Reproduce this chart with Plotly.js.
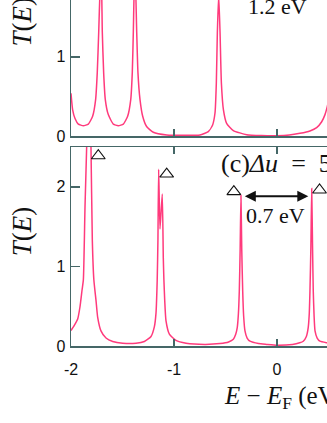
<!DOCTYPE html>
<html>
<head>
<meta charset="utf-8">
<script src="https://cdn.plot.ly/plotly-3.0.1.min.js"></script>
<style>
  html, body { margin:0; padding:0; width:327px; height:423px; overflow:hidden; background:#fff; }
  #chart { position:absolute; left:0; top:-100px; }
</style>
</head>
<body>
<div id="chart"></div>
<script>
// ---- data ----
// upper panel (peaks 1.2 eV apart)
const topE = [-2.000,-1.984,-1.961,-1.929,-1.880,-1.832,-1.790,-1.761,-1.745,-1.731,-1.718,-1.706,-1.696,-1.683,-1.667,-1.638,-1.589,-1.541,-1.492,-1.450,-1.420,-1.405,-1.395,-1.386,-1.376,-1.362,-1.350,-1.330,-1.304,-1.266,-1.201,-1.071,-0.900,-0.748,-0.667,-0.625,-0.602,-0.589,-0.579,-0.566,-0.553,-0.540,-0.520,-0.489,-0.424,-0.294,-0.150,0.000,0.120,0.223,0.320,0.385,0.434,0.466,0.488,0.510];
const topT = [0.54,0.33,0.22,0.15,0.13,0.15,0.25,0.46,0.80,1.31,1.85,2.05,1.31,0.80,0.46,0.27,0.15,0.13,0.15,0.25,0.46,0.80,1.31,1.85,2.00,1.31,0.80,0.46,0.25,0.12,0.047,0.013,0.008,0.013,0.055,0.14,0.29,0.67,1.31,1.78,1.31,0.67,0.33,0.16,0.068,0.017,0.006,0.004,0.012,0.034,0.064,0.106,0.18,0.27,0.37,0.52];

// lower panel (c) Δu = 5
const botE = [-2.000,-1.968,-1.935,-1.913,-1.893,-1.880,-1.864,-1.848,-1.836,-1.818,-1.806,-1.793,-1.778,-1.757,-1.741,-1.709,-1.660,-1.595,-1.498,-1.369,-1.288,-1.223,-1.191,-1.175,-1.163,-1.156,-1.149,-1.136,-1.114,-1.104,-1.098,-1.090,-1.078,-1.045,-0.981,-0.883,-0.700,-0.553,-0.470,-0.424,-0.400,-0.386,-0.375,-0.366,-0.358,-0.350,-0.342,-0.333,-0.324,-0.311,-0.290,-0.262,-0.180,-0.100,0.000,0.150,0.220,0.255,0.285,0.303,0.313,0.320,0.329,0.337,0.345,0.352,0.360,0.369,0.390,0.417,0.485,0.510];
const botT = [0.195,0.26,0.34,0.49,0.70,0.83,1.75,2.50,3.20,3.20,2.50,1.33,0.83,0.57,0.36,0.19,0.10,0.057,0.035,0.035,0.057,0.12,0.24,0.41,0.83,1.33,2.22,1.47,1.91,1.11,0.83,0.57,0.32,0.15,0.07,0.035,0.02,0.03,0.05,0.085,0.15,0.23,0.40,0.69,1.20,1.89,1.20,0.69,0.38,0.19,0.10,0.06,0.03,0.02,0.01,0.02,0.04,0.06,0.12,0.23,0.40,0.69,1.25,1.98,1.25,0.69,0.38,0.19,0.10,0.06,0.04,0.035];

// peak markers (△) in panel (c)
const markE = [-1.735,-1.071,-0.419,0.413];
const markT = [2.39,2.16,1.94,1.96];

// spacing arrow in panel (c)
const arrowE = [-0.327, 0.304];
const arrowT = 1.88;

const xTicks = [-2,-1,0];
const yTicks = [0,1,2];

// ---- figure ----
const curveColor = '#ff3a7c';
const axisColor = '#456767';
const tickFont = {family:'Liberation Sans, Arial, sans-serif', size:16, color:'#111'};
const serif = 'Liberation Serif, Times New Roman, serif';

const traces = [
  {x: topE, y: topT, xaxis:'x2', yaxis:'y2', mode:'lines', line:{color:curveColor, width:1.5, shape:'spline', smoothing:0.5}, hoverinfo:'skip'},
  {x: botE, y: botT, xaxis:'x', yaxis:'y', mode:'lines', line:{color:curveColor, width:1.5, shape:'spline', smoothing:0.5}, hoverinfo:'skip'},
  {x: markE, y: markT, xaxis:'x', yaxis:'y', mode:'markers',
   marker:{symbol:'triangle-up-open', size:12, color:'#111', line:{width:1.1, color:'#111'}}, cliponaxis:false, hoverinfo:'skip'}
];

const axBase = {
  showline:true, linecolor:axisColor, linewidth:1.5, mirror:'ticks',
  ticks:'inside', tickcolor:axisColor, tickwidth:1.5,
  showgrid:false, zeroline:false, tickfont:tickFont
};

const layout = {
  width:400, height:530,
  margin:{l:71, r:20, t:38, b:84},
  paper_bgcolor:'#fff', plot_bgcolor:'#fff',
  showlegend:false,
  xaxis: Object.assign({}, axBase, {anchor:'y', domain:[0,1], range:[-2,1], tickvals:xTicks, ticktext:xTicks.map(String), ticklen:7, ticklabelstandoff:8}),
  yaxis: Object.assign({}, axBase, {anchor:'x', domain:[0,199/408], range:[0,2.5], tickvals:yTicks, ticktext:yTicks.map(String), ticklen:9, ticklabelstandoff:1}),
  xaxis2: Object.assign({}, axBase, {anchor:'y2', domain:[0,1], range:[-2,1], tickvals:xTicks, showticklabels:false, ticklen:7}),
  yaxis2: Object.assign({}, axBase, {anchor:'x2', domain:[210/408,1], range:[0,2.5], tickvals:yTicks, ticktext:yTicks.map(String), ticklen:9, ticklabelstandoff:1}),
  annotations: [
    {xref:'x2', yref:'y2', x:0.0, y:1.63, text:'1.2 eV', showarrow:false, xanchor:'center', yanchor:'middle',
     font:{family:serif, size:22, color:'#111'}},
    {xref:'x', yref:'y', x:-0.01, y:1.64, text:'0.7 eV', showarrow:false, xanchor:'center', yanchor:'middle',
     font:{family:serif, size:22, color:'#111'}},
    {xref:'x', yref:'y', x:-0.56, y:2.29, text:'(c)<i>Δu</i>\u2002=\u20025 eV', showarrow:false, xanchor:'left', yanchor:'middle',
     font:{family:serif, size:26, color:'#111'}},
    {xref:'x', yref:'y', axref:'x', ayref:'y', x:arrowE[1], y:arrowT, ax:arrowE[0], ay:arrowT, text:'',
     showarrow:true, arrowside:'end+start', arrowhead:2, startarrowhead:2, arrowsize:1.1, startarrowsize:1.1, arrowwidth:2,
     arrowcolor:'#111', standoff:0, startstandoff:0},
    {xref:'paper', yref:'paper', x:-0.159, y:0.281, text:'<i>T</i>(<i>E</i>)', showarrow:false, textangle:-90,
     xanchor:'center', yanchor:'middle', font:{family:serif, size:27, color:'#111'}},
    {xref:'paper', yref:'paper', x:-0.159, y:0.795, text:'<i>T</i>(<i>E</i>)', showarrow:false, textangle:-90,
     xanchor:'center', yanchor:'middle', font:{family:serif, size:27, color:'#111'}},
    {xref:'paper', yref:'paper', x:0.49, y:-0.127, text:'<i>E</i> − <i>E</i><sub>F</sub> (eV)', showarrow:false,
     xanchor:'left', yanchor:'middle', font:{family:serif, size:25, color:'#111'}}
  ]
};

Plotly.newPlot('chart', traces, layout, {staticPlot:true, displayModeBar:false});
</script>
</body>
</html>
